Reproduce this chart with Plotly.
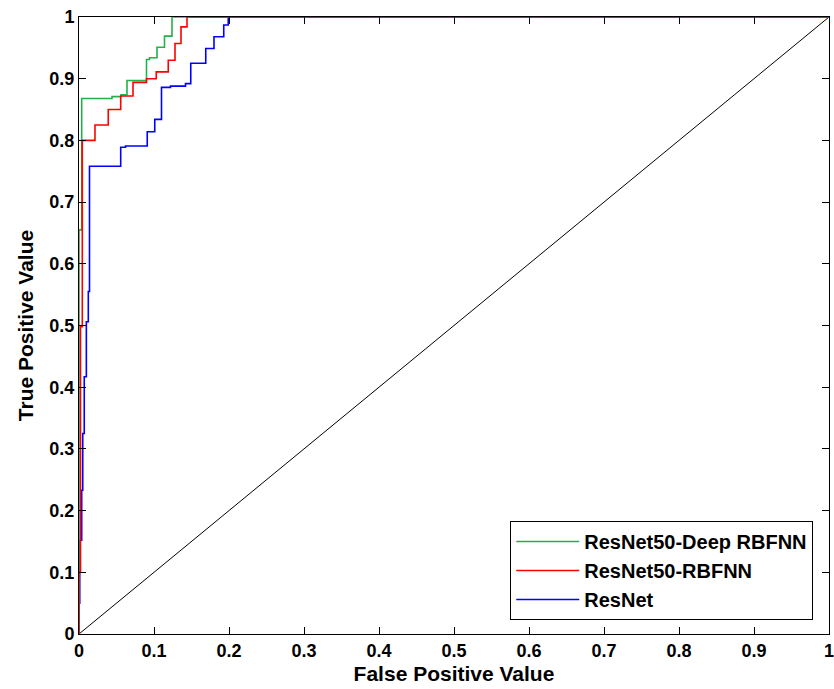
import plotly.graph_objects as go

# ROC corner points (fpr of vertical segment, tpr at top of that segment), drawn with 'hv' steps
green_fpr = [0, 0, 0.0036, 0.044, 0.056, 0.064, 0.090, 0.094, 0.104, 0.114, 0.124, 1.0]
green_tpr = [0, 0.655, 0.868, 0.871, 0.874, 0.897, 0.931, 0.934, 0.951, 0.969, 1.0, 1.0]

red_fpr = [0, 0, 0.002, 0.0044, 0.0213, 0.039, 0.0556, 0.072, 0.090, 0.103, 0.119, 0.128, 0.136, 0.144, 1.0]
red_tpr = [0, 0.10, 0.498, 0.80, 0.825, 0.850, 0.872, 0.894, 0.900, 0.911, 0.930, 0.957, 0.984, 1.0, 1.0]

blue_fpr = [0, 0, 0.001, 0.0036, 0.005, 0.007, 0.0098, 0.0124, 0.014, 0.0556, 0.062, 0.091, 0.101,
            0.110, 0.122, 0.142, 0.149, 0.169, 0.180, 0.193, 0.199, 1.0]
blue_tpr = [0, 0.05, 0.152, 0.233, 0.325, 0.417, 0.506, 0.555, 0.758, 0.789, 0.791, 0.814, 0.834,
            0.886, 0.888, 0.892, 0.925, 0.949, 0.968, 0.987, 1.0, 1.0]

diag = [0, 1]

tick_vals = [0, 0.1, 0.2, 0.3, 0.4, 0.5, 0.6, 0.7, 0.8, 0.9, 1]
tick_text = ["0", "0.1", "0.2", "0.3", "0.4", "0.5", "0.6", "0.7", "0.8", "0.9", "1"]

FONT = "Liberation Sans"

fig = go.Figure()
fig.add_trace(go.Scatter(x=diag, y=diag, mode="lines", line=dict(color="black", width=1),
                         showlegend=False, hoverinfo="skip"))
fig.add_trace(go.Scatter(x=blue_fpr, y=blue_tpr, mode="lines", name="ResNet",
                         line=dict(color="#0000ff", width=1.6, shape="hv"), legendrank=3))
fig.add_trace(go.Scatter(x=green_fpr, y=green_tpr, mode="lines", name="ResNet50-Deep RBFNN",
                         line=dict(color="#22b14c", width=1.6, shape="hv"), legendrank=1))
fig.add_trace(go.Scatter(x=red_fpr, y=red_tpr, mode="lines", name="ResNet50-RBFNN",
                         line=dict(color="#ff0000", width=1.6, shape="hv"), legendrank=2))

axis_common = dict(range=[0, 1], tickvals=tick_vals, ticktext=tick_text, ticks="inside",
                   ticklen=7, tickwidth=1, tickcolor="black", showline=True, linecolor="black",
                   linewidth=1, mirror="ticks", showgrid=False, zeroline=False, automargin=False,
                   ticklabeloverflow="allow",
                   tickfont=dict(family=FONT, size=18, color="black", weight="bold"))

fig.update_xaxes(**axis_common,
                 title=dict(text="False Positive Value", standoff=6,
                            font=dict(family=FONT, size=21, color="black", weight="bold")))
fig.update_yaxes(**axis_common,
                 title=dict(text="True Positive Value", standoff=10,
                            font=dict(family=FONT, size=21, color="black", weight="bold")))

fig.update_layout(
    width=834, height=689,
    margin=dict(l=79, r=5, t=17, b=55),
    plot_bgcolor="white", paper_bgcolor="white",
    legend=dict(x=0.777, y=0.0227, xanchor="center", yanchor="bottom",
                bgcolor="white", bordercolor="black", borderwidth=1,
                font=dict(family=FONT, size=20, color="black", weight="bold"),
                itemwidth=63, tracegroupgap=0),
)

fig.write_html("out.html", config={"displayModeBar": False},
               post_script="document.body.style.margin='0';document.body.style.overflow='hidden';")
